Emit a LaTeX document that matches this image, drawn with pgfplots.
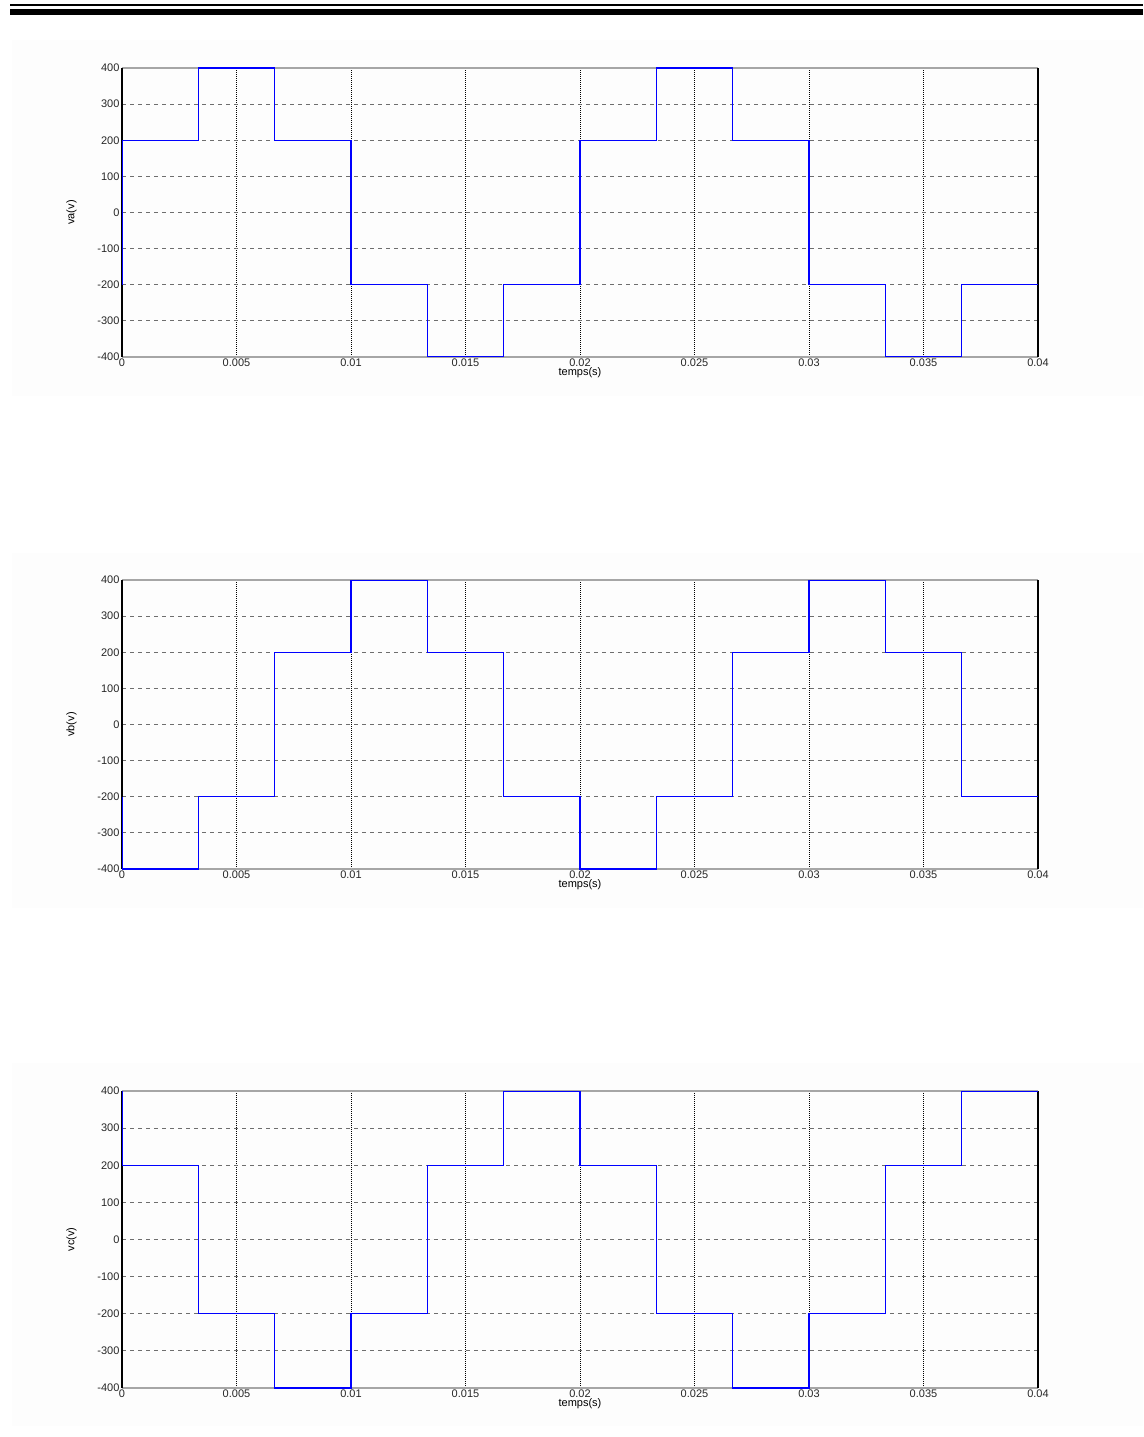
\documentclass[border=0pt]{standalone}
\usepackage{pgfplots}
\pgfplotsset{compat=1.18}
\usepackage{fontspec}
\setmainfont{Liberation Sans}
\definecolor{panelbg}{RGB}{253,253,253}
\definecolor{gridgray}{RGB}{110,110,110}
\pgfplotsset{
  sixstep/.style={
    scale only axis, width=916pt, height=289pt,
    anchor=north west,
    xmin=0, xmax=0.04, ymin=-400, ymax=400,
    scaled x ticks=false, scaled y ticks=false,
    xtick={0,0.005,0.01,0.015,0.02,0.025,0.03,0.035,0.04},
    xticklabels={0,0.005,0.01,0.015,0.02,0.025,0.03,0.035,0.04},
    ytick={-400,-300,-200,-100,0,100,200,300,400},
    yticklabels={-400,-300,-200,-100,0,100,200,300,400},
    tick label style={font=\fontsize{11}{12}\selectfont, text=black!85},
    xticklabel style={yshift=2pt},
    yticklabel style={xshift=1pt},
    label style={font=\fontsize{11}{12}\selectfont},
    xlabel={temps(s)},
    xlabel style={yshift=6pt},
    ylabel style={yshift=14pt},
    tick style={draw=none},
    xmajorgrids, ymajorgrids,
    x grid style={black, line width=0.9pt, dash pattern=on 1pt off 1pt},
    y grid style={gridgray, line width=0.8pt, dash pattern=on 4pt off 4pt},
    separate axis lines,
    x axis line style={draw=black!35, line width=1.4pt},
    y axis line style={draw=black, line width=1.6pt},
  },
  wave/.style={color=blue, line width=1.2pt, const plot mark left, mark=none},
}
\begin{document}
\begin{tikzpicture}
\path[use as bounding box] (0pt,0pt) rectangle (1143pt,-1437pt);
% header rules
\fill[black] (10pt,-4.3pt) rectangle (1143pt,-6.0pt);
\fill[black] (10pt,-9pt) rectangle (1143pt,-15.5pt);
% panels
\fill[panelbg] (12pt,-40pt) rectangle (1143pt,-396pt);
\fill[panelbg] (12pt,-553pt) rectangle (1143pt,-908pt);
\fill[panelbg] (12pt,-1063pt) rectangle (1143pt,-1426pt);

\begin{axis}[sixstep, at={(122pt,-68pt)}, ylabel={va(v)}]
\addplot[wave] coordinates {(0,-200) (0,200) (0.0033333,400) (0.0066667,200) (0.01,-200) (0.0133333,-400) (0.0166667,-200) (0.02,200) (0.0233333,400) (0.0266667,200) (0.03,-200) (0.0333333,-400) (0.0366667,-200) (0.04,-200)};
\end{axis}

\begin{axis}[sixstep, at={(122pt,-580pt)}, ylabel={vb(v)}]
\addplot[wave] coordinates {(0,-200) (0,-400) (0.0033333,-200) (0.0066667,200) (0.01,400) (0.0133333,200) (0.0166667,-200) (0.02,-400) (0.0233333,-200) (0.0266667,200) (0.03,400) (0.0333333,200) (0.0366667,-200) (0.04,-200)};
\end{axis}

\begin{axis}[sixstep, at={(122pt,-1091pt)}, height=297pt, ylabel={vc(v)}]
\addplot[wave] coordinates {(0,400) (0,200) (0.0033333,-200) (0.0066667,-400) (0.01,-200) (0.0133333,200) (0.0166667,400) (0.02,200) (0.0233333,-200) (0.0266667,-400) (0.03,-200) (0.0333333,200) (0.0366667,400) (0.04,400)};
\end{axis}
\end{tikzpicture}
\end{document}
